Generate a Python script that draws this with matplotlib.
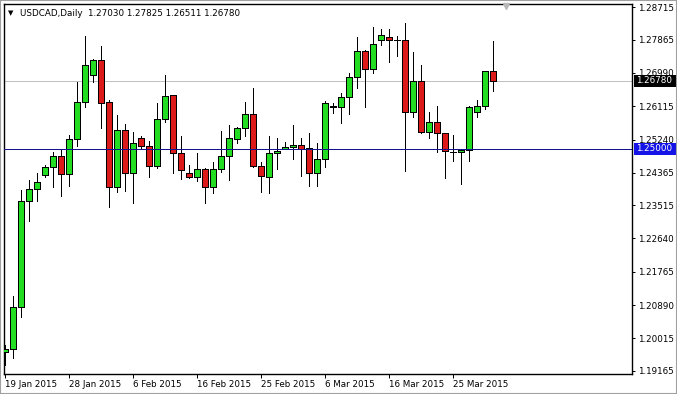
import matplotlib
matplotlib.use('Agg')
import matplotlib.pyplot as plt
import matplotlib.transforms as mtransforms
from matplotlib.patches import Rectangle
import numpy as np
import pandas as pd

symbol = "USDCAD,Daily"
dates = ["2015-01-19", "2015-01-20", "2015-01-21", "2015-01-22", "2015-01-23",
         "2015-01-25", "2015-01-26", "2015-01-27", "2015-01-28", "2015-01-29", "2015-01-30",
         "2015-02-01", "2015-02-02", "2015-02-03", "2015-02-04", "2015-02-05", "2015-02-06",
         "2015-02-08", "2015-02-09", "2015-02-10", "2015-02-11", "2015-02-12", "2015-02-13",
         "2015-02-15", "2015-02-16", "2015-02-17", "2015-02-18", "2015-02-19", "2015-02-20",
         "2015-02-22", "2015-02-23", "2015-02-24", "2015-02-25", "2015-02-26", "2015-02-27",
         "2015-03-01", "2015-03-02", "2015-03-03", "2015-03-04", "2015-03-05", "2015-03-06",
         "2015-03-08", "2015-03-09", "2015-03-10", "2015-03-11", "2015-03-12", "2015-03-13",
         "2015-03-15", "2015-03-16", "2015-03-17", "2015-03-18", "2015-03-19", "2015-03-20",
         "2015-03-22", "2015-03-23", "2015-03-24", "2015-03-25", "2015-03-26", "2015-03-27",
         "2015-03-29", "2015-03-30", "2015-03-31"]

opens = [1.19656, 1.19727, 1.20831, 1.23617, 1.23932, 1.24300, 1.24510, 1.24807, 1.24326, 1.25246,
         1.26219, 1.26928, 1.27330, 1.26215, 1.24000, 1.25491, 1.24353, 1.25272, 1.25070, 1.24544,
         1.25772, 1.26400, 1.24878, 1.24353, 1.24248, 1.24458, 1.23985, 1.24458, 1.24807, 1.25246,
         1.25535, 1.25903, 1.24544, 1.24248, 1.24878, 1.24991, 1.25036, 1.25089, 1.25010, 1.24368,
         1.24721, 1.26103, 1.26103, 1.26350, 1.26876, 1.27575, 1.27086, 1.27856, 1.27943, 1.27856,
         1.27848, 1.25956, 1.26786, 1.25446, 1.25693, 1.25404, 1.24920, 1.24905, 1.24965, 1.25972,
         1.26129, 1.27030]
highs = [1.19840, 1.21128, 1.23914, 1.24177, 1.24353, 1.24571, 1.24920, 1.24965, 1.25359, 1.26760,
         1.27961, 1.27349, 1.27706, 1.26279, 1.25885, 1.25648, 1.25446, 1.25333, 1.25201, 1.26192,
         1.26936, 1.26410, 1.25333, 1.24571, 1.24878, 1.24484, 1.24642, 1.25464, 1.25622, 1.25577,
         1.26234, 1.26587, 1.24658, 1.25333, 1.25272, 1.25167, 1.25622, 1.25288, 1.25404, 1.25157,
         1.26261, 1.26208, 1.26455, 1.26981, 1.27927, 1.27590, 1.28190, 1.28137, 1.28137, 1.27961,
         1.28295, 1.27533, 1.27199, 1.25956, 1.26121, 1.25404, 1.25359, 1.24965, 1.26129, 1.26279,
         1.27030, 1.27825]
lows = [1.19315, 1.19499, 1.20568, 1.23107, 1.23633, 1.24263, 1.24000, 1.23764, 1.24027, 1.25070,
        1.26103, 1.26760, 1.25535, 1.23475, 1.23869, 1.23895, 1.23564, 1.25010, 1.24248, 1.24484,
        1.25709, 1.24353, 1.24195, 1.24221, 1.24158, 1.23580, 1.23843, 1.24395, 1.24177, 1.25157,
        1.25333, 1.24530, 1.23869, 1.23843, 1.24458, 1.24983, 1.24721, 1.24290, 1.24019, 1.24019,
        1.24510, 1.25930, 1.25682, 1.25911, 1.26602, 1.26103, 1.26996, 1.27717, 1.27286, 1.27435,
        1.24421, 1.25840, 1.25404, 1.25272, 1.24920, 1.24237, 1.24684, 1.24072, 1.24684, 1.25840,
        1.26043, 1.26511]
closes = [1.19727, 1.20831, 1.23617, 1.23932, 1.24116, 1.24510, 1.24807, 1.24326, 1.25246, 1.26219,
          1.27199, 1.27330, 1.26208, 1.24000, 1.25491, 1.24353, 1.25141, 1.25078, 1.24544, 1.25772,
          1.26392, 1.24878, 1.24439, 1.24248, 1.24458, 1.23985, 1.24458, 1.24807, 1.25272, 1.25535,
          1.25903, 1.24544, 1.24282, 1.24878, 1.24931, 1.25044, 1.25089, 1.24999, 1.24368, 1.24721,
          1.26192, 1.26110, 1.26350, 1.26876, 1.27575, 1.27086, 1.27751, 1.27979, 1.27848, 1.27850,
          1.25956, 1.26786, 1.25446, 1.25693, 1.25404, 1.24939, 1.24915, 1.24965, 1.26087, 1.26129,
          1.27030, 1.26780]

price_ticks = [1.28715, 1.27865, 1.26990, 1.26115, 1.25240, 1.24365, 1.23515,
               1.22640, 1.21765, 1.20890, 1.20015, 1.19165]
level_price = 1.25000
bid_price = closes[-1]
date_tick_index = [0, 8, 16, 24, 32, 40, 48, 56]

W, H = 677, 394
FS = 6.3
PX = 0.72  # one pixel in points
fig = plt.figure(figsize=(W / 100, H / 100), dpi=100)
fig.patch.set_facecolor('white')
ax = fig.add_axes([4 / W, 20 / H, 628 / W, 370 / H])
ax.set_facecolor('white')

x = np.arange(len(dates))
o = np.array(opens); c = np.array(closes)
ax.axhline(bid_price, color='#c0c0c0', lw=PX, zorder=1)
ax.vlines(x, lows, highs, color='black', linewidth=PX, zorder=2, antialiased=False)
cols = ['#22dd22' if cc > oo else '#dd1a1a' for oo, cc in zip(o, c)]
ax.bar(x, np.abs(c - o), bottom=np.minimum(o, c), width=0.72, color=cols,
       edgecolor='black', linewidth=PX, zorder=3, antialiased=False)
ax.axhline(level_price, color='#12128f', lw=PX, zorder=4)

ax.set_xlim(-0.125, 78.375)
ax.set_ylim(1.19078, 1.28802)

ax.yaxis.tick_right()
ax.set_yticks(price_ticks)
ax.set_yticklabels([f"{v:.5f}" for v in price_ticks])
ax.tick_params(axis='y', direction='out', length=2.5, pad=1.5, labelsize=FS,
               width=PX, colors='black')
ax.set_xticks(date_tick_index)
dts = pd.to_datetime(dates)
ax.set_xticklabels([f"{dts[i].day} {dts[i].strftime('%b %Y')}" for i in date_tick_index])
for lab in ax.get_xticklabels():
    lab.set_ha('left')
ax.tick_params(axis='x', direction='out', length=3, pad=1.5, labelsize=FS, width=PX)
for s in ax.spines.values():
    s.set_linewidth(1)
    s.set_color('black')

blend = mtransforms.blended_transform_factory(fig.transFigure, ax.transData)
ppx = (1.28802 - 1.19078) / 370.0
for val, fc in [(bid_price, 'black'), (level_price, '#1414e6')]:
    ax.add_patch(Rectangle((633.5 / W, val - 6 * ppx), 42 / W, 12 * ppx, transform=blend,
                           facecolor=fc, edgecolor='none', clip_on=False, zorder=10))
    ax.text(636 / W, val, f"{val:.5f}", transform=blend, color='white', fontsize=FS,
            ha='left', va='center', clip_on=False, zorder=11)

# chart shift marker
ax.plot([(506 - 4) / 628], [1 - 2.5 / 370], marker='v', color='#b8b8b8', markersize=4.5,
        transform=ax.transAxes, clip_on=False, zorder=5)

# header
fig.text(8 / W, 1 - 13 / H, '▼', fontsize=5, va='center', ha='left', color='black')
fig.text(20.5 / W, 1 - 13 / H,
         f"{symbol}  {opens[-1]:.5f} {highs[-1]:.5f} {lows[-1]:.5f} {closes[-1]:.5f}",
         fontsize=FS, va='center', ha='left', color='black')

fig.patches.append(Rectangle((0, 0), 1, 1, transform=fig.transFigure, fill=False,
                             edgecolor='#a0a0a0', linewidth=1.5, zorder=20))

fig.savefig('out.png', dpi=100, facecolor='white')
